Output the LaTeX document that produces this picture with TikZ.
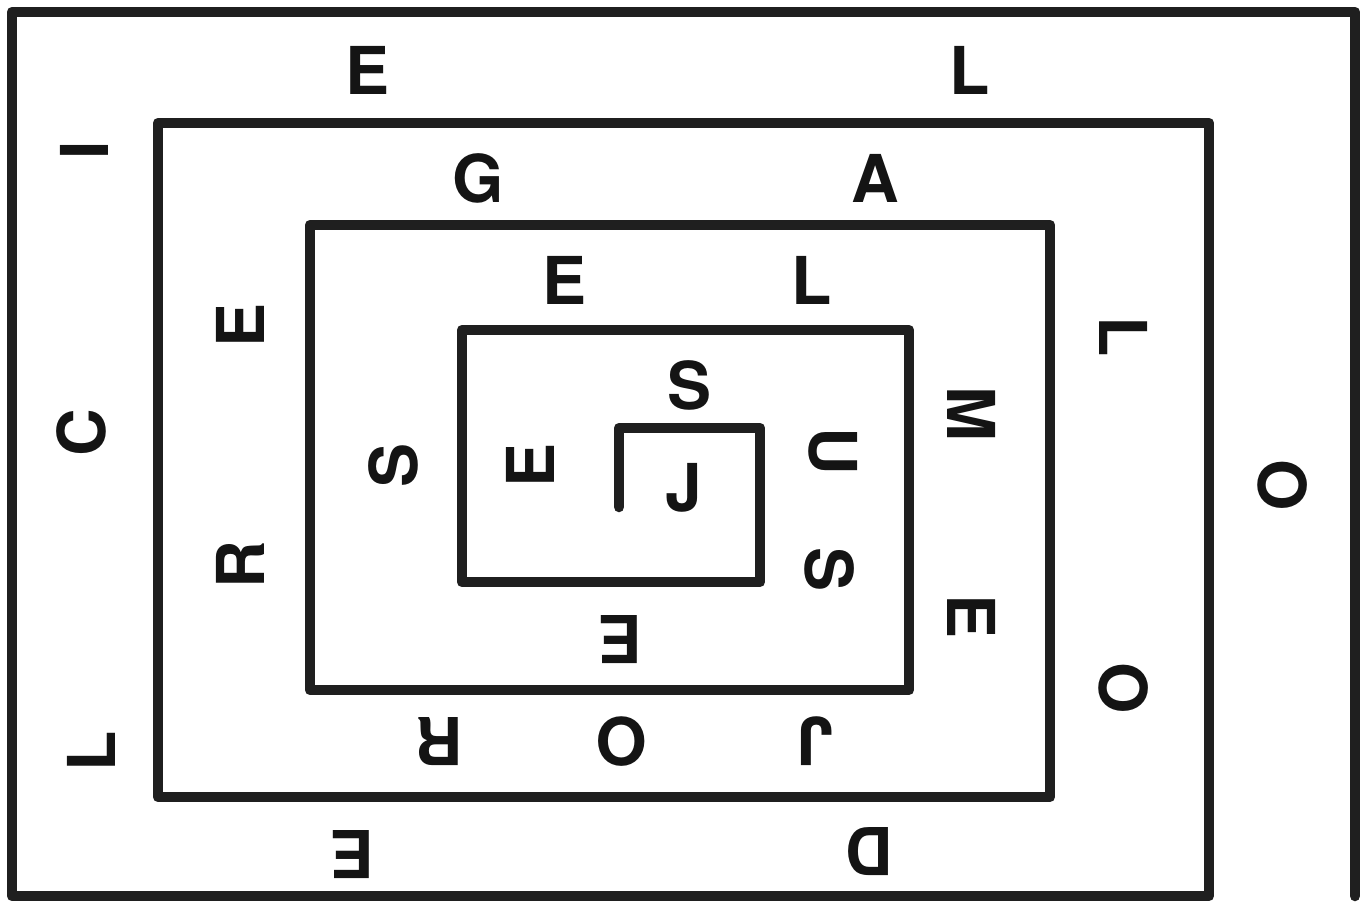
\documentclass[tikz,border=0pt]{standalone}
\usepackage{fontspec}
\setmainfont{TeX Gyre Heros}
\begin{document}
\begin{tikzpicture}[x=1pt,y=-1pt,
  spiral/.style={draw=black!88,line width=10.5pt,line join=round,line cap=round},
  lt/.style={font=\bfseries\fontsize{66}{66}\selectfont,inner sep=0pt,text=black!92},
  up/.style={lt},
  rt/.style={lt,rotate=-90},
  lf/.style={lt,rotate=90},
  dn/.style={lt,rotate=180}]
\useasboundingbox[fill=white] (0,0) rectangle (1368,902);
% spiral line
\draw[spiral] (1355,896) -- (1355,12) -- (12,12) -- (12,896) -- (1209,896)
  -- (1209,123) -- (158,123) -- (158,797) -- (1050,797) -- (1050,225)
  -- (310,225) -- (310,690) -- (909,690) -- (909,330) -- (462,330)
  -- (462,582) -- (760,582) -- (760,428) -- (619,428) -- (619,507);
% outer ring
\node[up] (e1) at (368,70) {E};
\node[up] (l1) at (970,70) {L};
\node[rt] (o1) at (1283,485) {O};
\node[dn] (d1) at (870,852) {D};
\node[dn] (e2) at (352,855) {E};
\node[lf] (l2) at (91,751) {L};
\node[lf] (c1) at (81,433) {C};
\node[lf] (i1) at (84,150) {I};
% second ring
\node[up] (g1) at (478,178) {G};
\node[up] (a1) at (875,178) {A};
\node[rt] (l3) at (1124,337) {L};
\node[rt] (o2) at (1124,688) {O};
\node[dn] (j1) at (815,741) {J};
\node[dn] (o3) at (622,742) {O};
\node[dn] (r1) at (440,742) {R};
\node[lf] (r2) at (240,565) {R};
\node[lf] (e3) at (240,325) {E};
% third ring
\node[up] (e4) at (565,280) {E};
\node[up] (l4) at (812,280) {L};
\node[rt] (m1) at (972,414) {M};
\node[rt] (e5) at (972,617) {E};
\node[dn] (e6) at (620,640) {E};
\node[lf] (s1) at (393,465) {S};
% fourth ring
\node[up] (s2) at (690,385) {S};
\node[rt] (u1) at (833,451) {U};
\node[rt] (s3) at (830,570) {S};
\node[lf] (e7) at (530,465) {E};
% centre
\node[up] (j2) at (684,488) {J};
\end{tikzpicture}
\end{document}
